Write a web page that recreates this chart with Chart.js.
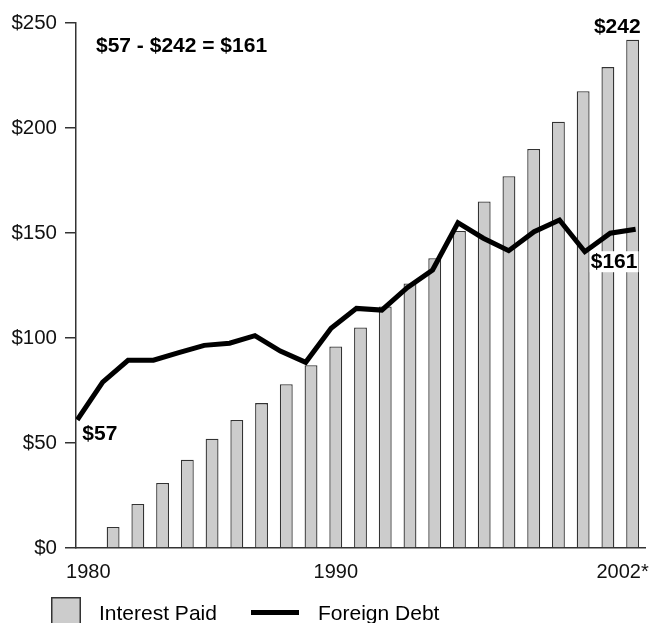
<!DOCTYPE html>
<html><head><meta charset="utf-8">
<script src="https://cdn.jsdelivr.net/npm/chart.js@4/dist/chart.umd.min.js"></script>
<style>html,body{margin:0;padding:0;background:#fff;}canvas{display:block;}</style>
</head><body>
<canvas id="c" width="653" height="623"></canvas>
<script>
const years = ['1980','1981','1982','1983','1984','1985','1986','1987','1988','1989','1990','1991','1992','1993','1994','1995','1996','1997','1998','1999','2000','2001','2002'];
const interestPaid = [null,10,21,31,42,52,61,69,78,87,96,105,115,126,138,151,165,177,190,203,217.5,229,242];
const foreignDebt = [61,79,89.4,89.4,93,96.5,97.5,101.1,93.8,88.4,104.6,114.1,113.3,124,132.4,154.9,147.5,141.6,150.6,156.2,141.1,149.9,151.8];
const xTickLabels = ['1980','1990','2002*'];
const seriesNames = ['Interest Paid','Foreign Debt'];
const summaryText = '$57 - $242 = $161';
const startLabel = '$57';
const endLabel = '$242';
const diffLabel = '$161';

const FONT = '"Liberation Sans", Arial, Helvetica, sans-serif';
const AXIS = '#333';
const BAR_FILL = '#cccccc';

const annot = {
  id: 'annot',
  afterDatasetsDraw(chart) {
    const ctx = chart.ctx;
    const xs = chart.scales.x, x2 = chart.scales.x2, ys = chart.scales.y;
    const last = years.length - 1;
    ctx.save();
    ctx.fillStyle = '#000';
    ctx.font = 'bold 21px ' + FONT;
    ctx.textAlign = 'left'; ctx.textBaseline = 'middle';
    ctx.fillText(summaryText, chart.chartArea.left + 20, ys.getPixelForValue(239));
    const bx = xs.getPixelForValue(last), by = ys.getPixelForValue(interestPaid[last]);
    ctx.textAlign = 'right'; ctx.textBaseline = 'alphabetic';
    ctx.fillText(endLabel, bx + 8, by - 7);
    const lx0 = x2.getPixelForValue(0), ly0 = ys.getPixelForValue(foreignDebt[0]);
    ctx.textAlign = 'left';
    ctx.fillText(startLabel, lx0 + 5, ly0 + 20);
    const lxN = x2.getPixelForValue(last), lyN = ys.getPixelForValue(foreignDebt[last]);
    const cx = lxN - 21.5, base = lyN + 39;
    const w = ctx.measureText(diffLabel).width;
    ctx.fillStyle = '#fff';
    ctx.fillRect(cx - w / 2 - 1, base - 17, w + 2, 21);
    ctx.fillStyle = '#000';
    ctx.textAlign = 'center';
    ctx.fillText(diffLabel, cx, base);
    ctx.restore();
  },
  afterDraw(chart) {
    const ctx = chart.ctx;
    ctx.save();
    ctx.fillStyle = BAR_FILL;
    ctx.fillRect(51, 597, 30, 30);
    ctx.strokeStyle = AXIS; ctx.lineWidth = 1.5;
    ctx.strokeRect(51.75, 597.75, 28.5, 30);
    ctx.fillStyle = '#000';
    ctx.font = '21px ' + FONT;
    ctx.textAlign = 'left'; ctx.textBaseline = 'alphabetic';
    ctx.fillText(seriesNames[0], 99, 620);
    ctx.strokeStyle = '#000'; ctx.lineWidth = 5;
    ctx.beginPath(); ctx.moveTo(251, 612.5); ctx.lineTo(299, 612.5); ctx.stroke();
    ctx.fillText(seriesNames[1], 318, 620);
    ctx.restore();
  }
};

new Chart(document.getElementById('c'), {
  data: {
    labels: years,
    datasets: [
      {
        type: 'line',
        label: seriesNames[1],
        data: foreignDebt.map((v, i) => ({ x: i, y: v })),
        xAxisID: 'x2',
        borderColor: '#000',
        borderWidth: 5,
        pointRadius: 0,
        tension: 0,
        fill: false,
        order: 0
      },
      {
        type: 'bar',
        label: seriesNames[0],
        data: interestPaid,
        xAxisID: 'x',
        grouped: false,
        backgroundColor: BAR_FILL,
        borderColor: AXIS,
        borderWidth: 1.3,
        barPercentage: 0.52,
        categoryPercentage: 1,
        order: 1
      }
    ]
  },
  options: {
    responsive: false,
    devicePixelRatio: 1,
    animation: false,
    layout: { padding: { left: 0, right: 8, top: 23, bottom: 0 } },
    plugins: { legend: { display: false }, tooltip: { enabled: false } },
    scales: {
      x: {
        type: 'category',
        offset: true,
        grid: { display: true, drawOnChartArea: false, drawTicks: false },
        border: { display: true, color: AXIS, width: 1.5 },
        ticks: {
          autoSkip: false, maxRotation: 0, minRotation: 0, padding: 12,
          color: '#111', font: { family: FONT, size: 20 },
          callback: (v, i) => {
            const t = xTickLabels.find(l => l.startsWith(years[i]));
            return t ? (t.endsWith('*') ? t + '\u2003' : t) : '';
          }
        },
        afterFit: s => { s.height = 75; s.paddingLeft = 0; s.paddingRight = 0; }
      },
      x2: {
        type: 'linear',
        display: false,
        min: -0.051,
        max: 22.37
      },
      y: {
        min: 0, max: 250,
        grid: { drawOnChartArea: false, drawTicks: true, tickLength: 11, color: AXIS, lineWidth: 1.5 },
        border: { display: true, color: AXIS, width: 1.5 },
        ticks: {
          stepSize: 50, padding: 8,
          color: '#111', font: { family: FONT, size: 20.5 },
          callback: v => '$' + v
        },
        afterFit: s => { s.width = 76; }
      }
    }
  },
  plugins: [annot]
});
</script>
</body></html>
